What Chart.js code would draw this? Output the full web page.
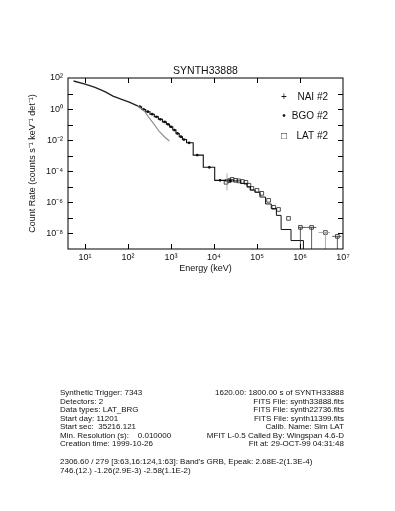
<!DOCTYPE html>
<html>
<head>
<meta charset="utf-8">
<script src="https://cdn.jsdelivr.net/npm/chart.js@4.4.1/dist/chart.umd.min.js"></script>
<style>
  body { margin: 0; background: #fff; }
  #wrap { position: relative; width: 395px; height: 511px; }
  #chart { display: block; }
  .info {
    position: absolute;
    font-family: 'Liberation Sans', Arial, sans-serif;
    font-size: 8px;
    line-height: 8.5px;
    color: #111;
    white-space: pre;
  }
</style>
</head>
<body>
<div id="wrap">
  <canvas id="chart" width="395" height="511"></canvas>
  <div class="info" id="infoLeft" style="left:60px; top:389px;"></div>
  <div class="info" id="infoRight" style="right:51px; top:389px; text-align:right;"></div>
  <div class="info" id="infoFit" style="left:60px; top:458px;"></div>
</div>
<script>
// NaI detector counts (keV, counts s^-1 keV^-1 det^-1)
const naiEnergy = [5.4, 10, 17, 28.8, 44.7, 70.8, 110, 170, 245, 316, 417, 537, 708, 912];
const naiRate = [64.6, 40.7, 25.1, 13.2, 6.9, 4.27, 2.69, 1.55, 0.68, 0.25, 0.093, 0.035, 0.016, 0.0089];

// BGO detector counts
const bgoEnergy = [186, 229, 288, 363, 457, 562, 708, 851, 1000, 1200, 1410, 1700, 2000, 2630,
                   4070, 7760, 13800, 24000];
const bgoRate = [1.41, 0.95, 0.68, 0.47, 0.32, 0.22, 0.15, 0.105, 0.072, 0.045, 0.027, 0.0166, 0.011, 0.0068,
                 0.0011, 1.8e-4, 2.6e-5, 2.4e-5];

// LAT counts
const latEnergy = [19000, 22400, 26300, 31600, 38000, 45700, 55000, 64600, 75900, 1e5, 1.29e5,
                   1.86e5, 2.45e5, 3.16e5, 5.4e5, 1.02e6, 1.86e6, 3.9e6, 7.4e6];
const latRate = [1.95e-5, 2.5e-5, 3.0e-5, 2.6e-5, 2.4e-5, 2.2e-5, 1.95e-5, 1.26e-5, 7.9e-6, 5.9e-6, 3.8e-6,
                 1.35e-6, 4.8e-7, 3.5e-7, 9.3e-8, 2.45e-8, 2.45e-8, 1.15e-8, 6.5e-9];

// LAT model histogram
const latModelEnergy = [17800, 28200, 41700, 58900, 70800, 89100, 117000, 158000, 214000, 282000,
                        363000, 617000, 1.2e6, 2.4e6];
const latModelRate = [2.4e-5, 2.8e-5, 2.4e-5, 1.66e-5, 1.0e-5, 6.3e-6, 4.5e-6, 2.2e-6, 7.9e-7, 4.0e-7,
                      1.45e-7, 1.8e-8, 3.5e-9, 1e-10];

// error bars
const barEnergy = [20000, 1.02e6, 1.86e6, 3.9e6, 7.4e6];
const barRateLo = [5.9e-6, 1e-10, 1e-10, 1e-10, 1e-10];
const barRateHi = [7.4e-5, 2.45e-8, 2.45e-8, 1.15e-8, 6.5e-9];
const barEnergyLo = [null, 9.3e5, 1.4e6, 2.7e6, 5.6e6];
const barEnergyHi = [null, 1.4e6, 2.4e6, 5.0e6, 9.1e6];
const barColors = ['#999', '#333', '#333', '#999', '#333'];

const xTicks = [1e1, 1e2, 1e3, 1e4, 1e5, 1e6, 1e7];
const yTicks = [1e-8, 1e-6, 1e-4, 1e-2, 1e0, 1e2];

const legendLabels = ['NAI #2', 'BGO #2', 'LAT #2'];
const legendSymbols = ['+', '•', '□'];

const infoLeft = [
  'Synthetic Trigger: 7343',
  'Detectors: 2',
  'Data types: LAT_BRG',
  'Start day: 11201',
  'Start sec:  35216.121',
  'Min. Resolution (s):    0.010000',
  'Creation time: 1999-10-26'
];
const infoRight = [
  '1620.00: 1800.00 s of SYNTH33888',
  'FITS File: synth33888.fits',
  'FITS File: synth22736.fits',
  'FITS File: synth11399.fits',
  'Calib. Name: Sim LAT',
  'MFIT L-0.5 Called By: Wingspan 4.6-D',
  'Fit at: 29-OCT-99 04:31:48'
];
const fitLines = [
  "2306.60 / 279 [3:63,16:124,1:63]: Band's GRB, Epeak: 2.68E-2(1.3E-4)",
  '746.(12.) -1.26(2.9E-3) -2.58(1.1E-2)'
];

document.getElementById('infoLeft').textContent = infoLeft.join('\n');
document.getElementById('infoRight').textContent = infoRight.join('\n');
document.getElementById('infoFit').textContent = fitLines.join('\n');

const FONT = "'Liberation Sans', Arial, sans-serif";
const sup = s => String(s).replace(/[-0-9]/g, c => '⁻⁰¹²³⁴⁵⁶⁷⁸⁹'['-0123456789'.indexOf(c)]);
const decadeLabel = v => '10' + sup(Math.round(Math.log10(v)));
const toXY = (xs, ys) => xs.map((x, i) => ({ x, y: ys[i] }));

// frame, inward ticks, error bars, title and legend
const framePlugin = {
  id: 'frame',
  afterDatasetsDraw(chart) {
    const { ctx, chartArea: a, scales: { x, y } } = chart;
    const seg = (x0, y0, x1, y1) => { ctx.beginPath(); ctx.moveTo(x0, y0); ctx.lineTo(x1, y1); ctx.stroke(); };
    ctx.save();

    ctx.lineWidth = 0.8;
    barEnergy.forEach((e, i) => {
      ctx.strokeStyle = barColors[i];
      const px = x.getPixelForValue(e);
      const py0 = Math.min(y.getPixelForValue(barRateLo[i]), a.bottom);
      const py1 = y.getPixelForValue(barRateHi[i]);
      seg(px, py0, px, py1);
      if (barEnergyLo[i]) {
        const py = y.getPixelForValue(barRateHi[i]);
        seg(x.getPixelForValue(barEnergyLo[i]), py, Math.min(x.getPixelForValue(barEnergyHi[i]), a.right), py);
      }
    });

    ctx.strokeStyle = '#000';
    ctx.lineWidth = 1;
    ctx.strokeRect(a.left, a.top, a.right - a.left, a.bottom - a.top);
    for (let p = 1; p <= 6; p++) {
      const px = Math.round(x.getPixelForValue(10 ** p)) + 0.5;
      seg(px, a.bottom, px, a.bottom - 5);
      seg(px, a.top, px, a.top + 5);
    }
    for (let p = -8; p <= 1; p++) {
      const py = Math.round(y.getPixelForValue(10 ** p)) + 0.5;
      seg(a.left, py, a.left + 5, py);
      seg(a.right, py, a.right - 5, py);
    }

    ctx.fillStyle = '#111';
    ctx.textBaseline = 'middle';
    ctx.textAlign = 'center';
    ctx.font = '10.5px ' + FONT;
    ctx.fillText('SYNTH33888', (a.left + a.right) / 2, a.top - 7);

    ctx.font = '10px ' + FONT;
    legendLabels.forEach((lab, i) => {
      const ly = a.top + 19 + i * 19.5;
      ctx.textAlign = 'right';
      ctx.fillText(lab, a.right - 15, ly);
      ctx.textAlign = 'center';
      ctx.fillText(legendSymbols[i], a.right - 59, ly);
    });
    ctx.restore();
  }
};

new Chart(document.getElementById('chart'), {
  type: 'line',
  data: {
    datasets: [
      {
        label: 'NAI #2',
        data: toXY(naiEnergy, naiRate),
        borderColor: '#222',
        borderWidth: 1.4,
        segment: {
          borderColor: c => c.p0.parsed.x >= 170 ? '#8a8a8a' : '#222',
          borderWidth: c => c.p0.parsed.x >= 170 ? 1.1 : 1.4
        },
        pointRadius: 0
      },
      {
        label: 'BGO #2',
        data: toXY(bgoEnergy, bgoRate),
        borderColor: '#111',
        borderWidth: 1.1,
        stepped: 'middle',
        pointRadius: 1.4,
        pointBackgroundColor: '#111',
        pointBorderWidth: 0
      },
      {
        label: 'LAT model',
        data: toXY(latModelEnergy, latModelRate),
        borderColor: '#111',
        borderWidth: 1,
        stepped: 'after',
        pointRadius: 0
      },
      {
        label: 'LAT #2',
        data: toXY(latEnergy, latRate),
        showLine: false,
        pointStyle: 'rect',
        pointRadius: 2.6,
        pointBorderColor: '#222',
        pointBackgroundColor: 'rgba(255,255,255,0)',
        pointBorderWidth: 0.8
      }
    ]
  },
  options: {
    responsive: false,
    animation: false,
    events: [],
    layout: { padding: { left: 0, right: 52, top: 78, bottom: 222 } },
    plugins: { legend: { display: false }, tooltip: { enabled: false } },
    scales: {
      x: {
        type: 'logarithmic',
        min: 4,
        max: 1e7,
        afterBuildTicks: s => { s.ticks = xTicks.map(v => ({ value: v })); },
        afterFit: s => { s.height = 40; },
        grid: { display: false, drawTicks: false },
        border: { display: false },
        ticks: {
          autoSkip: false,
          maxRotation: 0,
          padding: 3,
          color: '#111',
          font: { family: FONT, size: 9 },
          callback: v => decadeLabel(v)
        },
        title: {
          display: true,
          text: 'Energy (keV)',
          color: '#111',
          font: { family: FONT, size: 9 },
          padding: { top: 0, bottom: 15 }
        }
      },
      y: {
        type: 'logarithmic',
        min: 1e-9,
        max: 1e2,
        afterBuildTicks: s => { s.ticks = yTicks.map(v => ({ value: v })); },
        afterFit: s => { s.width = 68; },
        grid: { display: false, drawTicks: false },
        border: { display: false },
        ticks: {
          autoSkip: false,
          padding: 5,
          color: '#111',
          font: { family: FONT, size: 9 },
          callback: v => decadeLabel(v)
        },
        title: {
          display: true,
          text: 'Count Rate (counts s⁻¹ keV⁻¹ det⁻¹)',
          color: '#111',
          font: { family: FONT, size: 9 },
          padding: { top: 27, bottom: 0 }
        }
      }
    }
  },
  plugins: [framePlugin]
});
</script>
</body>
</html>
